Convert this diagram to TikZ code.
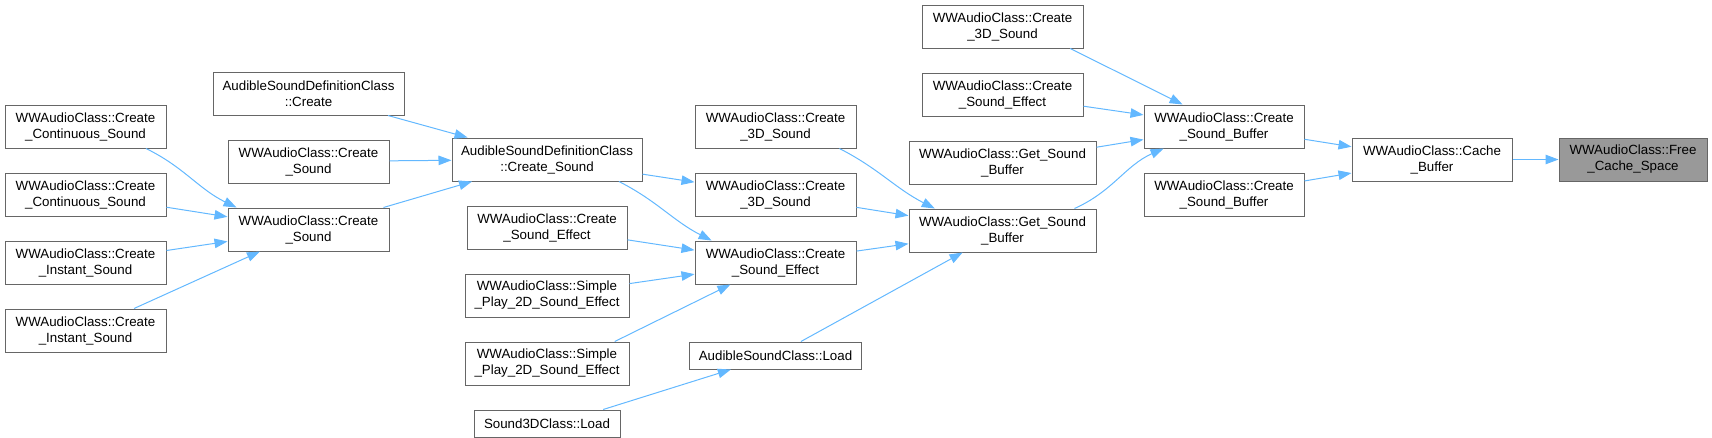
\documentclass[tikz,border=0pt]{standalone}
\usepackage{fontspec}
\setmainfont{Liberation Sans}
\usepackage{tikz}
\usetikzlibrary{arrows.meta, positioning}
\definecolor{edgeblue}{HTML}{63B8FF}
\definecolor{boxgrey}{HTML}{666666}
\definecolor{hlgrey}{HTML}{999999}

\begin{document}
\begin{tikzpicture}[
    x=1pt, y=1pt,
    node distance=24pt,
    fn/.style={rectangle, draw=boxgrey, fill=white, line width=1pt, minimum width=161pt, minimum height=43pt, inner sep=0pt, align=center, font=\fontsize{13.33}{16}\selectfont},
    fnone/.style={fn, minimum height=27pt},
    hl/.style={fn, fill=hlgrey},
    call/.style={-{Triangle[length=13pt, width=9.5pt]}, draw=edgeblue, line width=1pt},
]
\path[use as bounding box] (0,0) rectangle (1712,-437);

% callers of Create_Sound
\node[fn] (conta) at (85.5,-126.5) {WWAudioClass::Create\\\_Continuous\_Sound};
\node[fn, below=of conta] (contb) {WWAudioClass::Create\\\_Continuous\_Sound};
\node[fn, below=of contb] (insta) {WWAudioClass::Create\\\_Instant\_Sound};
\node[fn, below=of insta] (instb) {WWAudioClass::Create\\\_Instant\_Sound};

\node[fn, minimum width=191pt] (defcreate) at (308.5,-93.5) {AudibleSoundDefinitionClass\\::Create};
\node[fn, below=of defcreate] (csndtop) {WWAudioClass::Create\\\_Sound};
\node[fn, below=of csndtop] (csnd) {WWAudioClass::Create\\\_Sound};

\node[fn, minimum width=190pt] (defsnd) at (547,-159.5) {AudibleSoundDefinitionClass\\::Create\_Sound};
\node[fn, minimum width=160pt, below=of defsnd] (effl) {WWAudioClass::Create\\\_Sound\_Effect};
\node[fn, minimum width=164pt, below=of effl] (playa) {WWAudioClass::Simple\\\_Play\_2D\_Sound\_Effect};
\node[fn, minimum width=164pt, below=of playa] (playb) {WWAudioClass::Simple\\\_Play\_2D\_Sound\_Effect};
\node[fnone, minimum width=146pt, below=of playb] (s3dload) {Sound3DClass::Load};

% callers of Get_Sound_Buffer
\node[fn] (d3da) at (775.5,-126.5) {WWAudioClass::Create\\\_3D\_Sound};
\node[fn, below=of d3da] (d3db) {WWAudioClass::Create\\\_3D\_Sound};
\node[fn, below=of d3db] (eff) {WWAudioClass::Create\\\_Sound\_Effect};
\node[fnone, minimum width=172pt, below=57pt of eff] (audload) {AudibleSoundClass::Load};

\node[fn] (d3dtop) at (1002.5,-26.5) {WWAudioClass::Create\\\_3D\_Sound};
\node[fn, below=of d3dtop] (efftop) {WWAudioClass::Create\\\_Sound\_Effect};
\node[fn, minimum width=187pt, below=of efftop] (gbtop) {WWAudioClass::Get\_Sound\\\_Buffer};
\node[fn, minimum width=187pt, below=of gbtop] (gb) {WWAudioClass::Get\_Sound\\\_Buffer};

\node[fn, minimum width=160pt] (sbuf) at (1224,-126.5) {WWAudioClass::Create\\\_Sound\_Buffer};
\node[fn, minimum width=160pt, below=of sbuf] (sbufb) {WWAudioClass::Create\\\_Sound\_Buffer};

\node[fn, minimum width=160pt] (cache) at (1432,-159.5) {WWAudioClass::Cache\\\_Buffer};
\node[hl, minimum width=148pt] (free) at (1633,-159.5) {WWAudioClass::Free\\\_Cache\_Space};

% calls
\draw[call] (conta.-20.5) to[out=-26, in=154] (csnd.163);
\draw[call] (contb) -- (csnd);
\draw[call] (insta) -- (csnd);
\draw[call] (instb) -- (csnd);

\draw[call] (defcreate) -- (defsnd);
\draw[call] (csndtop) -- (defsnd);
\draw[call] (csnd) -- (defsnd);

\draw[call] (defsnd) -- (d3db);
\draw[call] (defsnd.-17) to[out=-27, in=153] (eff.161.4);
\draw[call] (effl) -- (eff);
\draw[call] (playa) -- (eff);
\draw[call] (playb.18) -- (eff.206);
\draw[call] (s3dload.14) -- (audload);

\draw[call] (d3da.-19.3) to[out=-27, in=153] (gb.162.8);
\draw[call] (d3db) -- (gb);
\draw[call] (eff) -- (gb);
\draw[call] (audload) -- (gb);

\draw[call] (d3dtop.-18.2) -- (sbuf.152.3);
\draw[call] (efftop) -- (sbuf);
\draw[call] (gbtop) -- (sbuf);
\draw[call] (gb.17.2) to[out=24, in=-156] (sbuf.200);

\draw[call] (sbuf) -- (cache);
\draw[call] (sbufb) -- (cache);
\draw[call] (cache) -- (free);

\end{tikzpicture}
\end{document}
